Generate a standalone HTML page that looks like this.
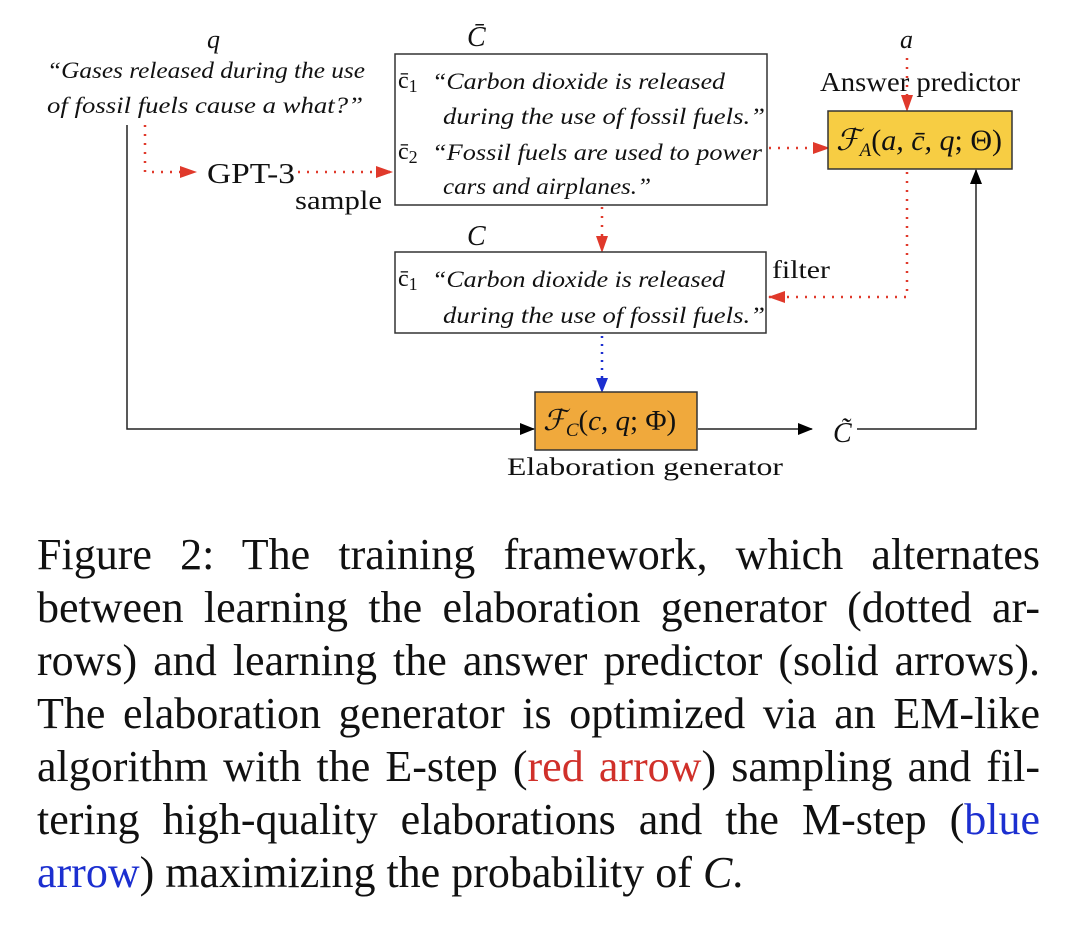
<!DOCTYPE html>
<html><head><meta charset="utf-8"><style>
body{margin:0;width:1080px;height:939px;background:#fff;position:relative;overflow:hidden;font-family:"Liberation Serif",serif;}
.cl{position:absolute;left:37px;width:1003px;font-size:44px;line-height:53px;color:#111;text-align:justify;text-align-last:justify;white-space:nowrap;}
.cl.last{text-align-last:left;}
.r{color:#d0302a}.b{color:#1c2fd0}
svg text{font-family:"Liberation Serif",serif;fill:#111}
</style></head><body>
<svg width="1080" height="500" style="position:absolute;left:0;top:0">
<defs>
<marker id="ab" markerWidth="16" markerHeight="16" refX="14" refY="6" orient="auto" markerUnits="userSpaceOnUse"><path d="M0,0 L15,6 L0,12 z" fill="#1c2fd0"/></marker>
<marker id="ak" markerWidth="16" markerHeight="16" refX="14" refY="6" orient="auto" markerUnits="userSpaceOnUse"><path d="M0,0 L15,6 L0,12 z" fill="#000"/></marker>
<marker id="rr" markerWidth="18" markerHeight="16" refX="16" refY="6" orient="auto" markerUnits="userSpaceOnUse"><path d="M0,0 L17,6 L0,12 z" fill="#e0392b"/></marker>
</defs>
<g stroke="#e0392b" stroke-width="2.5" stroke-dasharray="2,7" fill="none">
<path d="M145,125 V172 H196" marker-end="url(#rr)"/>
<path d="M298,172 H392" marker-end="url(#rr)"/>
<path d="M769,148 H829" marker-end="url(#rr)"/>
<path d="M907,58 V111" marker-end="url(#rr)"/>
<path d="M907,172 V297 H769" marker-end="url(#rr)"/>
<path d="M602,207 V252" marker-end="url(#rr)"/>
</g>
<path d="M602,336 V392" stroke="#1c2fd0" stroke-width="2.5" stroke-dasharray="2,6" fill="none" marker-end="url(#ab)"/>
<g stroke="#222" stroke-width="1.5" fill="none">
<path d="M127,125 V429 H534" marker-end="url(#ak)"/>
<path d="M698,429 H812" marker-end="url(#ak)"/>
<path d="M857,429 H976 V170" marker-end="url(#ak)"/>
</g>
<rect x="395" y="54" width="372" height="151" fill="#fff" stroke="#333" stroke-width="1.5"/>
<rect x="395" y="252" width="371" height="81" fill="#fff" stroke="#333" stroke-width="1.5"/>
<rect x="828" y="111" width="184" height="58" fill="#f7cd43" stroke="#333" stroke-width="1.5"/>
<rect x="535" y="392" width="162" height="58" fill="#f0a93c" stroke="#333" stroke-width="1.5"/>
<g font-size="23" font-style="italic">
<text x="207" y="48" font-size="26">q</text>
<text x="47" y="78" textLength="318" lengthAdjust="spacingAndGlyphs">“Gases released during the use</text>
<text x="47" y="113" textLength="316" lengthAdjust="spacingAndGlyphs">of fossil fuels cause a what?”</text>
<text x="467" y="46" font-size="28">C̄</text>
<text x="467" y="245" font-size="28">C</text>
<text x="900" y="48" font-size="26">a</text>
<text x="432" y="89" textLength="293" lengthAdjust="spacingAndGlyphs">“Carbon dioxide is released</text>
<text x="443" y="124" textLength="322" lengthAdjust="spacingAndGlyphs">during the use of fossil fuels.”</text>
<text x="432" y="160" textLength="330" lengthAdjust="spacingAndGlyphs">“Fossil fuels are used to power</text>
<text x="443" y="194" textLength="208" lengthAdjust="spacingAndGlyphs">cars and airplanes.”</text>
<text x="432" y="287" textLength="293" lengthAdjust="spacingAndGlyphs">“Carbon dioxide is released</text>
<text x="443" y="323" textLength="322" lengthAdjust="spacingAndGlyphs">during the use of fossil fuels.”</text>
<text x="833" y="442" font-size="28">C̃</text>
</g>
<g font-size="24">
<text x="398" y="88">c̄<tspan font-size="18" dy="4">1</tspan></text>
<text x="398" y="159">c̄<tspan font-size="18" dy="4">2</tspan></text>
<text x="398" y="286">c̄<tspan font-size="18" dy="4">1</tspan></text>
<text x="207" y="183" font-size="28" textLength="88" lengthAdjust="spacingAndGlyphs">GPT-3</text>
<text x="295" y="209" font-size="26" textLength="87" lengthAdjust="spacingAndGlyphs">sample</text>
<text x="820" y="91" font-size="27" textLength="200" lengthAdjust="spacingAndGlyphs">Answer predictor</text>
<text x="772" y="278" font-size="25" textLength="58" lengthAdjust="spacingAndGlyphs">filter</text>
<text x="507" y="475" font-size="25" textLength="276" lengthAdjust="spacingAndGlyphs">Elaboration generator</text>
<text x="836" y="150" font-size="30"><tspan font-style="italic">ℱ</tspan><tspan font-size="19" dy="6" font-style="italic">A</tspan><tspan dy="-6">(</tspan><tspan font-style="italic">a, c̄, q</tspan>; Θ)</text>
<text x="543" y="430" font-size="29"><tspan font-style="italic">ℱ</tspan><tspan font-size="19" dy="6" font-style="italic">C</tspan><tspan dy="-6">(</tspan><tspan font-style="italic">c, q</tspan>; Φ)</text>
</g>
</svg>
<div class="cl" style="top:528px">Figure 2: The training framework, which alternates</div>
<div class="cl" style="top:581px">between learning the elaboration generator (dotted ar-</div>
<div class="cl" style="top:634px">rows) and learning the answer predictor (solid arrows).</div>
<div class="cl" style="top:687px">The elaboration generator is optimized via an EM-like</div>
<div class="cl" style="top:740px">algorithm with the E-step (<span class="r">red arrow</span>) sampling and fil-</div>
<div class="cl" style="top:793px">tering high-quality elaborations and the M-step (<span class="b">blue</span></div>
<div class="cl last" style="top:846px"><span class="b">arrow</span>) maximizing the probability of <i>C</i>.</div>
</body></html>
